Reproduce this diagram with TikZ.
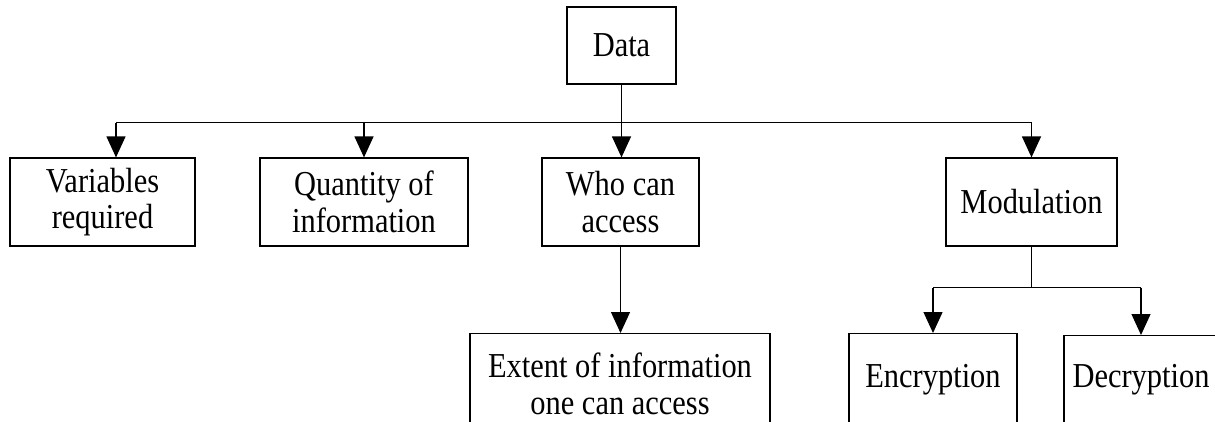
\documentclass[tikz,border=0pt]{standalone}
\usepackage{fontspec}
\setmainfont{Liberation Serif}[FakeStretch=0.87]
\usetikzlibrary{arrows.meta, positioning}

\begin{document}
\begin{tikzpicture}[x=1pt, y=-1pt,
  box/.style={draw, line width=1.2pt, inner sep=0pt, align=center, font=\fontsize{35}{36.5}\selectfont},
  link/.style={line width=1.2pt},
  arr/.style={line width=1.2pt, -{Triangle[width=19pt, length=21pt]}}]
  \path[fill=white, use as bounding box] (0,0) rectangle (1215,421);

  \node[box, minimum width=109pt, minimum height=77pt] (data) at (621.5,45.5) {Data};
  \node[box, minimum width=185pt, minimum height=88pt] (var) at (102.5,202) {Variables\\required};
  \node[box, minimum width=208pt, minimum height=88pt] (qty) at (364,202) {Quantity of\\information};
  \node[box, minimum width=157pt, minimum height=88pt] (who) at (620.5,202) {Who can\\access};
  \node[box, minimum width=171pt, minimum height=88pt] (mod) at (1031.5,202) {Modulation};
  \node[box, anchor=north, minimum width=300pt, minimum height=100pt] (ext) at (620,333) {Extent of information\\one can access};
  \node[box, anchor=north, minimum width=168pt, minimum height=92pt] (enc) at (933,333) {Encryption};
  \node[box, anchor=north, minimum width=154pt, minimum height=88pt] (dec) at (1141,335) {Decryption};

  \coordinate (va) at ([xshift=13.5pt]var.north);
  \draw[link] (data.south) -- ++(0,38) coordinate (hub);
  \draw[link] (va |- hub) -- (mod.north |- hub);
  \draw[arr] (hub) -- (hub |- who.north);
  \draw[arr] (va |- hub) -- (va);
  \draw[arr] (qty.north |- hub) -- (qty.north);
  \draw[arr] (mod.north |- hub) -- (mod.north);

  \draw[arr] (who.south) -- (who.south |- ext.north);

  \draw[link] (mod.south) -- ++(0,41) coordinate (split);
  \draw[link] (enc.north |- split) -- (dec.north |- split);
  \draw[arr] (enc.north |- split) -- (enc.north);
  \draw[arr] (dec.north |- split) -- (dec.north);
\end{tikzpicture}
\end{document}
